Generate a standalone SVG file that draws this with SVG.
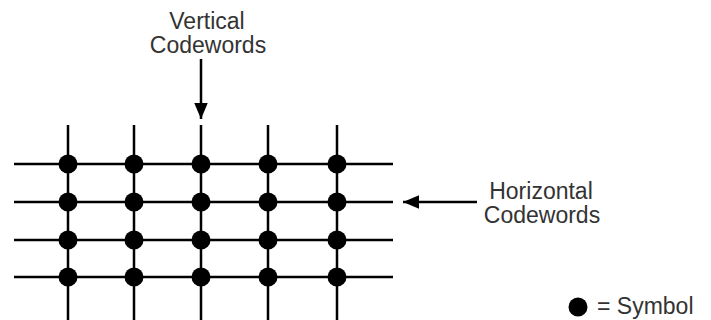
<svg xmlns="http://www.w3.org/2000/svg" width="711" height="320" viewBox="0 0 711 320">
<defs>
<style>
.ln{stroke:#000;stroke-width:2.5;fill:none}
.dot{fill:#000}
.t{font-family:"Liberation Sans",Arial,sans-serif;font-size:23px;fill:#333;text-anchor:middle}
</style>
<marker id="ah" markerWidth="6.4" markerHeight="5.4" refX="6.4" refY="2.7" orient="auto" markerUnits="strokeWidth">
<path d="M0,0 L6.4,2.7 L0,5.4 Z" fill="#000"/>
</marker>
</defs>
<rect width="711" height="320" fill="#fff"/>
<g id="connectors">
<line class="ln" x1="14" y1="164" x2="393" y2="164"/>
<line class="ln" x1="14" y1="202" x2="393" y2="202"/>
<line class="ln" x1="14" y1="240" x2="393" y2="240"/>
<line class="ln" x1="14" y1="277" x2="393" y2="277"/>
<line class="ln" x1="68" y1="125" x2="68" y2="320"/>
<line class="ln" x1="134" y1="125" x2="134" y2="320"/>
<line class="ln" x1="201" y1="125" x2="201" y2="320"/>
<line class="ln" x1="268" y1="125" x2="268" y2="320"/>
<line class="ln" x1="337" y1="125" x2="337" y2="320"/>
<line class="ln" x1="201" y1="59" x2="201" y2="119" marker-end="url(#ah)"/>
<line class="ln" x1="477" y1="202" x2="403" y2="202" marker-end="url(#ah)"/>
</g>
<g id="symbols">
<circle class="dot" cx="68" cy="164" r="9.5"/><circle class="dot" cx="134" cy="164" r="9.5"/><circle class="dot" cx="201" cy="164" r="9.5"/><circle class="dot" cx="268" cy="164" r="9.5"/><circle class="dot" cx="337" cy="164" r="9.5"/>
<circle class="dot" cx="68" cy="202" r="9.5"/><circle class="dot" cx="134" cy="202" r="9.5"/><circle class="dot" cx="201" cy="202" r="9.5"/><circle class="dot" cx="268" cy="202" r="9.5"/><circle class="dot" cx="337" cy="202" r="9.5"/>
<circle class="dot" cx="68" cy="240" r="9.5"/><circle class="dot" cx="134" cy="240" r="9.5"/><circle class="dot" cx="201" cy="240" r="9.5"/><circle class="dot" cx="268" cy="240" r="9.5"/><circle class="dot" cx="337" cy="240" r="9.5"/>
<circle class="dot" cx="68" cy="277" r="9.5"/><circle class="dot" cx="134" cy="277" r="9.5"/><circle class="dot" cx="201" cy="277" r="9.5"/><circle class="dot" cx="268" cy="277" r="9.5"/><circle class="dot" cx="337" cy="277" r="9.5"/>
</g>
<g id="vertical-label">
<text class="t" x="207" y="29">Vertical</text>
<text class="t" x="208" y="53">Codewords</text>
</g>
<g id="horizontal-label">
<text class="t" x="541" y="199">Horizontal</text>
<text class="t" x="542" y="223">Codewords</text>
</g>
<g id="legend">
<circle class="dot" cx="578" cy="307" r="9.5"/>
<text class="t" x="597" y="314" style="text-anchor:start">= Symbol</text>
</g>
</svg>
